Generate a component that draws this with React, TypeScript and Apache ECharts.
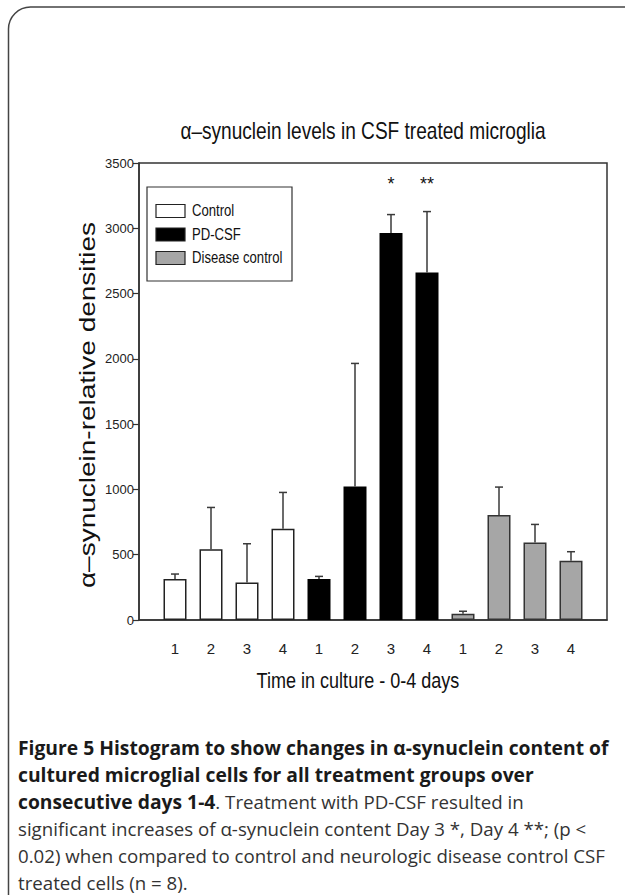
import React, { useEffect, useRef } from 'react';
import * as echarts from 'echarts';

// ---- data ----
const dayLabels = ['1', '2', '3', '4', '1', '2', '3', '4', '1', '2', '3', '4'];
const groupNames = ['Control', 'PD-CSF', 'Disease control'];
const groupColors = ['#ffffff', '#000000', '#a6a6a6'];
const controlMeans = [314, 541, 288, 699];
const controlErr = [38, 321, 296, 278];
const pdMeans = [314, 1023, 2964, 2661];
const pdErr = [20, 942, 141, 467];
const dcMeans = [48, 804, 594, 454];
const dcErr = [19, 214, 138, 69];
const sigMarks = ['', '', '', '', '', '', '*', '**', '', '', '', ''];
const yMin = 0;
const yMax = 3500;
const yStep = 500;

const chartTitle = 'α–synuclein levels in CSF treated microglia';
const yTitle = 'α–synuclein-relative densities';
const xTitle = 'Time in culture - 0-4 days';

const SANS = "'Liberation Sans', Arial, sans-serif";
const OPEN = "'Open Sans', sans-serif";
const SQUEEZE = 0.82;

export default function App() {
  const ref = useRef<HTMLDivElement>(null);
  useEffect(() => {
    if (!ref.current) return;
    const chart = echarts.init(ref.current, undefined, { renderer: 'svg' });

    const groups = [
      { name: groupNames[0], means: controlMeans, errs: controlErr, color: groupColors[0], border: '#222' },
      { name: groupNames[1], means: pdMeans, errs: pdErr, color: groupColors[1], border: '#000' },
      { name: groupNames[2], means: dcMeans, errs: dcErr, color: groupColors[2], border: '#333' },
    ];

    const barSeries = groups.map((g, gi) => ({
      type: 'bar',
      name: g.name,
      barWidth: 23,
      barGap: '-100%',
      itemStyle: { color: g.color, borderColor: g.border, borderWidth: 1.5 },
      data: g.means.map((v, i) => [gi * 4 + i + 1, v]),
      z: 2,
    }));

    const errData: number[][] = [];
    groups.forEach((g, gi) => {
      g.means.forEach((v, i) => errData.push([gi * 4 + i + 1, v, g.errs[i]]));
    });

    const starData = sigMarks
      .map((m, i) => ({ x: i + 1, m }))
      .filter((d) => d.m !== '');

    // legend drawn as a box with squeezed (narrow) text, like the original figure
    const legendTop = 187;
    const legendChildren: any[] = [
      {
        type: 'rect',
        shape: { x: 147, y: legendTop, width: 145, height: 94 },
        style: { fill: '#fff', stroke: '#333', lineWidth: 1.2 },
      },
    ];
    groups.forEach((g, i) => {
      const cy = legendTop + 24 + i * 23.5;
      legendChildren.push({
        type: 'rect',
        shape: { x: 156, y: cy - 6.5, width: 29, height: 13 },
        style: { fill: g.color, stroke: '#222', lineWidth: 1.2 },
      });
      legendChildren.push({
        type: 'text',
        x: 192,
        y: cy,
        scaleX: SQUEEZE,
        style: {
          text: g.name,
          fontFamily: SANS,
          fontSize: 16,
          fill: '#111',
          textAlign: 'left',
          textVerticalAlign: 'middle',
        },
      });
    });

    const option: any = {
      animation: false,
      backgroundColor: '#ffffff',
      grid: {
        left: 139,
        top: 163,
        width: 468,
        height: 457,
        show: true,
        borderColor: '#333',
        borderWidth: 1.5,
        containLabel: false,
      },
      xAxis: {
        type: 'value',
        min: 0,
        max: dayLabels.length + 1,
        interval: 1,
        axisLine: { show: true, onZero: false, lineStyle: { color: '#333', width: 1.5 } },
        axisTick: { show: false },
        splitLine: { show: false },
        axisLabel: {
          margin: 21,
          fontFamily: SANS,
          fontSize: 15,
          color: '#222',
          formatter: (v: number) => dayLabels[v - 1] ?? '',
        },
      },
      yAxis: {
        type: 'value',
        min: yMin,
        max: yMax,
        interval: yStep,
        axisLine: { show: true, lineStyle: { color: '#333', width: 1.5 } },
        axisTick: { show: true, inside: false, length: 6, lineStyle: { color: '#333', width: 1.2 } },
        splitLine: { show: false },
        axisLabel: {
          margin: 5,
          fontFamily: SANS,
          fontSize: 13,
          color: '#222',
          formatter: (v: number) => String(v),
        },
      },
      series: [
        ...barSeries,
        {
          type: 'custom',
          name: 'errors',
          z: 3,
          data: errData,
          encode: { x: 0, y: 1 },
          renderItem: (params: any, api: any) => {
            const x = api.value(0);
            const m = api.value(1);
            const e = api.value(2);
            const p0 = api.coord([x, m]);
            const p1 = api.coord([x, m + e]);
            const st = { stroke: '#3a3a3a', lineWidth: 1.5 };
            return {
              type: 'group',
              children: [
                { type: 'line', shape: { x1: p0[0], y1: p0[1], x2: p1[0], y2: p1[1] }, style: st },
                { type: 'line', shape: { x1: p1[0] - 4, y1: p1[1], x2: p1[0] + 4, y2: p1[1] }, style: st },
              ],
            };
          },
        },
        {
          type: 'custom',
          name: 'significance',
          z: 4,
          data: starData.map((d) => [d.x, yMax]),
          encode: { x: 0, y: 1 },
          renderItem: (params: any, api: any) => {
            const d = starData[params.dataIndex];
            const p = api.coord([d.x, 3410]);
            return {
              type: 'text',
              x: p[0],
              y: p[1],
              style: {
                text: d.m,
                fontFamily: SANS,
                fontSize: 18,
                fill: '#111',
                textAlign: 'center',
                textVerticalAlign: 'top',
              },
            };
          },
        },
      ],
      graphic: [
        {
          type: 'rect',
          shape: { x: 8.5, y: 7, width: 800, height: 1000, r: 22 },
          style: { fill: 'none', stroke: '#444', lineWidth: 1.5 },
          silent: true,
        },
        {
          type: 'text',
          x: 363,
          y: 131,
          scaleX: 0.83,
          style: {
            text: chartTitle,
            fontFamily: SANS,
            fontSize: 23,
            fill: '#111',
            textAlign: 'center',
            textVerticalAlign: 'middle',
          },
        },
        {
          type: 'text',
          x: 358,
          y: 680,
          scaleX: SQUEEZE,
          style: {
            text: xTitle,
            fontFamily: SANS,
            fontSize: 22,
            fill: '#111',
            textAlign: 'center',
            textVerticalAlign: 'middle',
          },
        },
        {
          type: 'text',
          x: 87,
          y: 405,
          rotation: Math.PI / 2,
          scaleY: SQUEEZE,
          style: {
            text: yTitle,
            fontFamily: SANS,
            fontSize: 28,
            fill: '#111',
            textAlign: 'center',
            textVerticalAlign: 'middle',
          },
        },
        { type: 'group', children: legendChildren },
        {
          type: 'text',
          x: 18,
          y: 734,
          style: {
            text:
              '{b|Figure 5 Histogram to show changes in α-synuclein content of}\n' +
              '{b|cultured microglial cells for all treatment groups over}\n' +
              '{b|consecutive days 1-4}{n|. Treatment with PD-CSF resulted in}\n' +
              '{n|significant increases of α-synuclein content Day 3 *, Day 4 **; (p <}\n' +
              '{n|0.02) when compared to control and neurologic disease control CSF}\n' +
              '{n|treated cells (n = 8).}',
            rich: {
              b: { fontFamily: OPEN, fontWeight: 'bold', fontSize: 19.3, lineHeight: 27, fill: '#1a1a1a' },
              n: { fontFamily: OPEN, fontWeight: 'normal', fontSize: 18.7, lineHeight: 27, fill: '#333' },
            },
          },
        },
      ],
    };

    chart.setOption(option);
    return () => chart.dispose();
  }, []);

  return (
    <div
      ref={ref}
      style={{ position: 'absolute', left: 0, top: 0, width: 625, height: 895, background: '#fff' }}
    />
  );
}
